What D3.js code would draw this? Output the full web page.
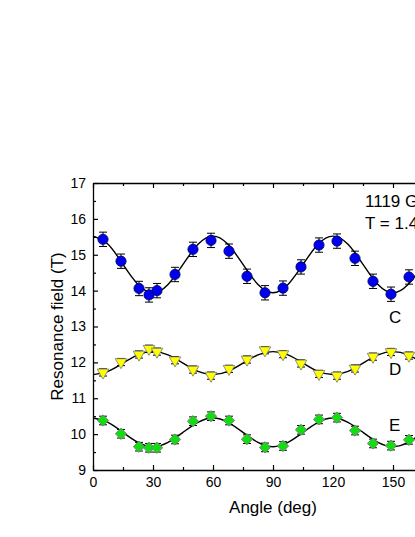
<!DOCTYPE html>
<html>
<head>
<meta charset="utf-8">
<script src="https://cdn.jsdelivr.net/npm/d3@7"></script>
<style>
body{margin:0;background:#fff;}
svg{display:block;font-family:Arial,"Liberation Sans",sans-serif;}
</style>
</head>
<body>
<div id="chart-area"></div>
<script>
// measured angles (deg)
var angles = [5,14,23,28,32,41,50,59,68,77,86,95,104,113,122,131,140,149,158];

// branch C (blue circles)
var valuesC = [15.43,14.82,14.06,13.88,14.00,14.45,15.15,15.40,15.10,14.40,13.94,14.07,14.66,15.27,15.38,14.90,14.26,13.90,14.38];
var errC = 0.2;
// branch D (yellow down triangles)
var valuesD = [11.72,12.01,12.22,12.38,12.30,12.06,11.80,11.63,11.82,12.08,12.34,12.23,11.97,11.68,11.63,11.83,12.16,12.29,12.19];
var errD = 0.1;
// branch E (green diamonds)
var valuesE = [10.38,10.01,9.65,9.62,9.62,9.85,10.36,10.50,10.38,9.86,9.63,9.67,10.12,10.41,10.46,10.10,9.74,9.68,9.84];
var errE = 0.12;

// fit curves every 7.5 deg
var fitAngles = [0,7.5,15,22.5,30,37.5,45,52.5,60,67.5,75,82.5,90,97.5,105,112.5,120,127.5,135,142.5,150,157.5,165,172.5,180];
var fitC = [15.52,15.29,14.73,14.17,13.94,14.17,14.73,15.29,15.52,15.29,14.73,14.17,13.94,14.17,14.73,15.29,15.52,15.29,14.73,14.17,13.94,14.17,14.73,15.29,15.52];
var fitD = [11.66,11.75,11.98,12.21,12.30,12.21,11.98,11.75,11.66,11.75,11.98,12.21,12.30,12.21,11.98,11.75,11.66,11.75,11.98,12.21,12.30,12.21,11.98,11.75,11.66];
var fitE = [10.45,10.33,10.05,9.77,9.65,9.77,10.05,10.33,10.45,10.33,10.05,9.77,9.65,9.77,10.05,10.33,10.45,10.33,10.05,9.77,9.65,9.77,10.05,10.33,10.45];

var xTicks = [0,30,60,90,120,150];
var yTicks = [9,10,11,12,13,14,15,16,17];
var branchLabels = ["C","D","E"];
var annotation = ["1119 GHz","T = 1.4 K"];

var margin = {left:93, top:183, right:0, bottom:67};
var width = 360;   // 0..180 deg, right part falls outside the window
var height = 470 - margin.top;

var svg = d3.select('#chart-area').append('svg')
    .attr('width', 415)
    .attr('height', 537)
    .append('g')
        .attr('transform', 'translate(' + margin.left + ',' + margin.top + ')');

var x = d3.scaleLinear().domain([0,180]).range([0,width]);
var y = d3.scaleLinear().domain([9,17]).range([height,0]);

// axes, ticks pointing inward
function minorX(){ return d3.range(15,180,30); }
function minorY(){ return d3.range(9.5,17,1); }

svg.append('g').attr('transform','translate(0,' + height + ')')
    .call(d3.axisBottom(x).tickValues(xTicks).tickSizeInner(-5).tickSizeOuter(0).tickPadding(7));
svg.append('g')
    .call(d3.axisTop(x).tickValues(xTicks).tickSizeInner(-5).tickSizeOuter(0).tickFormat(''));
svg.append('g')
    .call(d3.axisLeft(y).tickValues(yTicks).tickSizeInner(-5).tickSizeOuter(0).tickPadding(7));
svg.append('g').attr('transform','translate(' + width + ',0)')
    .call(d3.axisRight(y).tickValues(yTicks).tickSizeInner(-5).tickSizeOuter(0).tickFormat(''));

svg.append('g').attr('transform','translate(0,' + height + ')')
    .call(d3.axisBottom(x).tickValues(minorX()).tickSizeInner(-3).tickSizeOuter(0).tickFormat(''))
    .select('.domain').remove();
svg.append('g')
    .call(d3.axisTop(x).tickValues(minorX()).tickSizeInner(-3).tickSizeOuter(0).tickFormat(''))
    .select('.domain').remove();
svg.append('g')
    .call(d3.axisLeft(y).tickValues(minorY()).tickSizeInner(-3).tickSizeOuter(0).tickFormat(''))
    .select('.domain').remove();

svg.selectAll('.domain').attr('stroke','#000').attr('stroke-width',1.3);
svg.selectAll('.tick line').attr('stroke','#000').attr('stroke-width',1.2);
svg.selectAll('.tick text').attr('font-size','14px').attr('fill','#000')
    .attr('font-family','Arial,"Liberation Sans",sans-serif');

svg.append('text')
    .attr('x', width/2)
    .attr('y', height + 43)
    .attr('font-size','17px')
    .attr('text-anchor','middle')
    .text('Angle (deg)');

svg.append('text')
    .attr('x', -(height/2))
    .attr('y', -30)
    .attr('font-size','17px')
    .attr('text-anchor','middle')
    .attr('transform','rotate(-90)')
    .text('Resonance field (T)');

// fit curves
var line = d3.line()
    .x(function(d){ return x(d[0]); })
    .y(function(d){ return y(d[1]); })
    .curve(d3.curveNatural);

[fitC, fitD, fitE].forEach(function(fit){
    svg.append('path')
        .datum(fitAngles.map(function(a,i){ return [a, fit[i]]; }))
        .attr('d', line)
        .attr('fill','none')
        .attr('stroke','#000')
        .attr('stroke-width',1.4);
});

// error bars + markers
var series = [
    {vals:valuesC, err:errC, fill:'#0000ee', stroke:'#000060', sym:d3.symbol().type(d3.symbolCircle).size(82), rot:0},
    {vals:valuesD, err:errD, fill:'#ffff00', stroke:'#777', sym:d3.symbol().type(d3.symbolTriangle).size(58), rot:180},
    {vals:valuesE, err:errE, fill:'#11dd11', stroke:'#777', sym:d3.symbol().type(d3.symbolSquare).size(64), rot:45}
];

series.forEach(function(s){
    var data = angles.map(function(a,i){ return {a:a, v:s.vals[i]}; });
    var g = svg.append('g');
    var eb = g.selectAll('.eb').data(data).enter().append('g');
    eb.append('line')
        .attr('x1', function(d){ return x(d.a); })
        .attr('x2', function(d){ return x(d.a); })
        .attr('y1', function(d){ return y(d.v - s.err); })
        .attr('y2', function(d){ return y(d.v + s.err); })
        .attr('stroke','#000').attr('stroke-width',1);
    [-1,1].forEach(function(sg){
        eb.append('line')
            .attr('x1', function(d){ return x(d.a) - 4; })
            .attr('x2', function(d){ return x(d.a) + 4; })
            .attr('y1', function(d){ return y(d.v + sg*s.err); })
            .attr('y2', function(d){ return y(d.v + sg*s.err); })
            .attr('stroke','#000').attr('stroke-width',1);
    });
    g.selectAll('.pt').data(data).enter().append('path')
        .attr('d', s.sym)
        .attr('transform', function(d){ return 'translate(' + x(d.a) + ',' + y(d.v) + ') rotate(' + s.rot + ')'; })
        .attr('fill', s.fill)
        .attr('stroke', s.stroke)
        .attr('stroke-width', 0.8);
});

// branch labels
var labelPos = [[148,13.1],[148,11.65],[148,10.1]];
branchLabels.forEach(function(t,i){
    svg.append('text')
        .attr('x', x(labelPos[i][0]))
        .attr('y', y(labelPos[i][1]))
        .attr('font-size','17px')
        .text(t);
});

annotation.forEach(function(t,i){
    svg.append('text')
        .attr('x', 272)
        .attr('y', 24 + i*22)
        .attr('font-size','17px')
        .text(t);
});
</script>
</body>
</html>
